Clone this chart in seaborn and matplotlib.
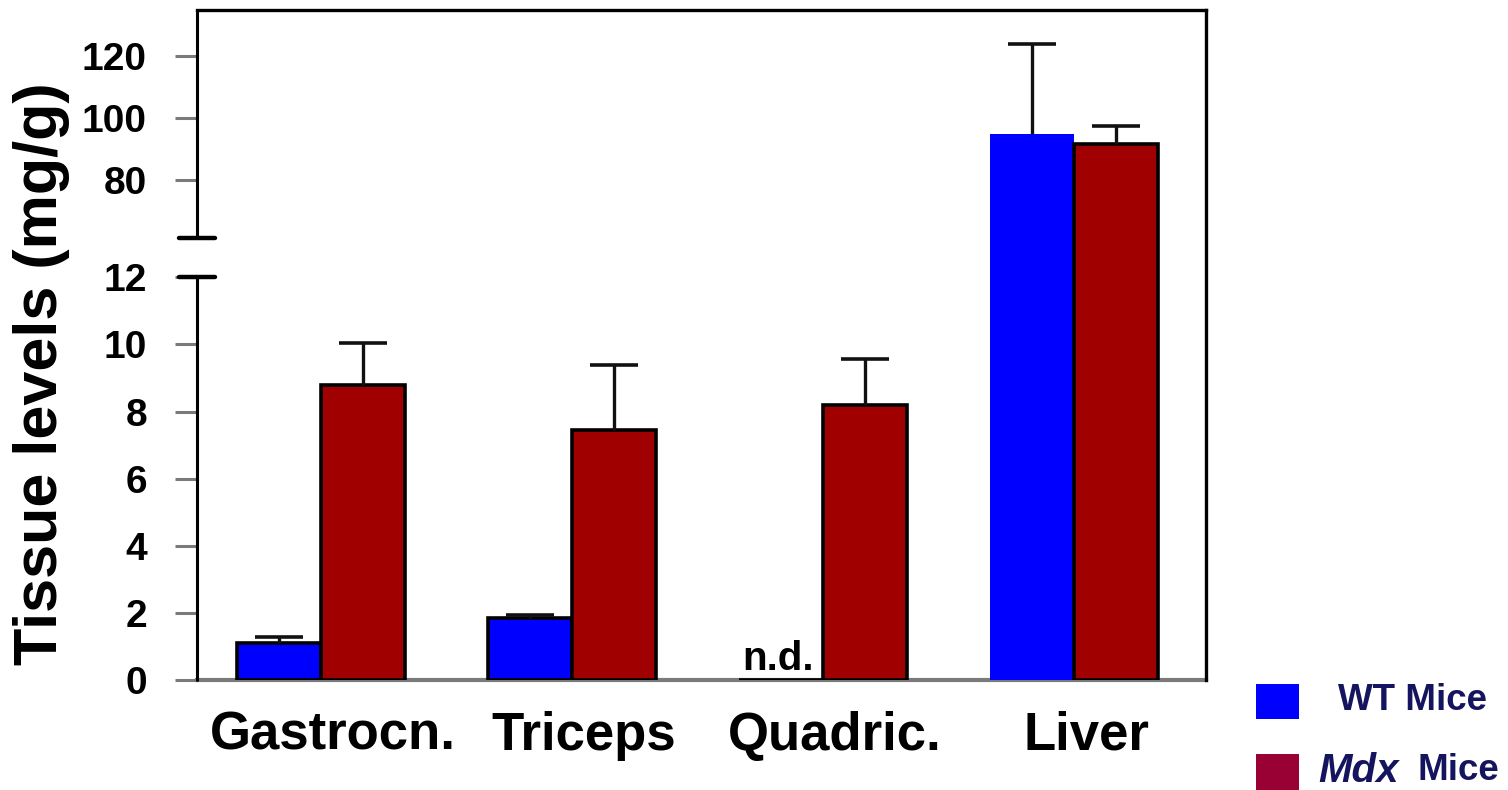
import numpy as np
import pandas as pd
import matplotlib
matplotlib.use("Agg")
import matplotlib.pyplot as plt
import matplotlib.transforms as mtransforms
from matplotlib.patches import Rectangle
import seaborn as sns

# ---------------- data ----------------
tissues = ["Gastrocn.", "Triceps", "Quadric.", "Liver"]
groups = ["WT Mice", "Mdx Mice"]
wt_values = [1.1, 1.85, 0.0, 94.8]
wt_errors = [0.18, 0.1, np.nan, 28.9]
mdx_values = [8.8, 7.45, 8.2, 91.6]
mdx_errors = [1.25, 1.95, 1.38, 5.8]
ytick_values = [0, 2, 4, 6, 8, 10, 12, 80, 100, 120]
nd_label = "n.d."

# ---------------- style ----------------
sns.set_style("white")
plt.rcParams["font.family"] = ["Liberation Sans", "DejaVu Sans"]
plt.rcParams["font.weight"] = "bold"
plt.rcParams["text.color"] = "black"
plt.rcParams["axes.labelcolor"] = "black"
plt.rcParams["xtick.labelcolor"] = "black"
plt.rcParams["ytick.labelcolor"] = "black"

BLUE = "#0000FF"
RED = "#A00000"
LEG_RED = "#990033"
NAVY = "#15155F"
GRAY = "#7A7A7A"

df = pd.DataFrame({
    "tissue": tissues * 2,
    "group": [groups[0]] * 4 + [groups[1]] * 4,
    "value": wt_values + mdx_values,
})

fig = plt.figure(figsize=(15.08, 7.9), dpi=100)
ax = fig.add_axes([197 / 1508, 110 / 790, (1206 - 197) / 1508, 670 / 790])

sns.barplot(data=df, x="tissue", y="value", hue="group", order=tissues,
            hue_order=groups, palette=[BLUE, RED], width=0.67,
            edgecolor="black", linewidth=2.6, errorbar=None, legend=False,
            saturation=1, ax=ax)

# broken (piecewise linear) y scale
BV = np.array([0.0, 12.0, 61.3, 400.0])
BP = np.array([0.0, 402.6, 442.0, 442.0 + (400.0 - 61.3) * 3.1])


def fwd(v):
    v = np.asarray(v, dtype=float)
    return np.where(v < 0, v * 33.55, np.interp(v, BV, BP))


def inv(p):
    p = np.asarray(p, dtype=float)
    return np.where(p < 0, p / 33.55, np.interp(p, BP, BV))


ax.set_yscale("function", functions=(fwd, inv))
ax.set_ylim(0, 134.8)
ax.set_xlim(-0.494, 3.526)
ax.set_yticks(ytick_values)
ax.set_yticklabels([str(v) for v in ytick_values])
ax.yaxis.set_minor_locator(matplotlib.ticker.NullLocator())

# liver WT bar has no outline
patches = ax.patches
n = len(tissues)
wt_patches = patches[:n]
mdx_patches = patches[n:2 * n]
wt_patches[3].set_edgecolor(BLUE)
wt_patches[3].set_linewidth(0)

# error bars (upper only)
for plist, errs in ((wt_patches, wt_errors), (mdx_patches, mdx_errors)):
    for p, e in zip(plist, errs):
        if e is None or np.isnan(e):
            continue
        xc = p.get_x() + p.get_width() / 2
        h = p.get_height()
        _, caps, _ = ax.errorbar([xc], [h], yerr=[[0], [e]], fmt="none",
                                 ecolor="#111111", elinewidth=2.4,
                                 capsize=17, capthick=2.6, zorder=1)
        caps[0].set_visible(False)

# n.d. label over quadric WT slot
qp = wt_patches[2]
ax.text(qp.get_x() + qp.get_width() / 2 - 0.01, 0.3, nd_label, ha="center",
        va="baseline", fontsize=29, fontweight="bold", color="black")

# spines
for s in ("top", "right"):
    ax.spines[s].set_color("black")
    ax.spines[s].set_linewidth(2.4)
ax.spines["bottom"].set_color(GRAY)
ax.spines["bottom"].set_linewidth(3)
ax.spines["bottom"].set_zorder(0.5)
ax.spines["left"].set_visible(False)

ytrans = ax.get_yaxis_transform()
ax.plot([0, 0], [0, 12], transform=ytrans, color="black", lw=2.2,
        clip_on=False, zorder=5)
ax.plot([0, 0], [61.3, 134.8], transform=ytrans, color="black", lw=2.2,
        clip_on=False, zorder=5)
for yb in (12, 61.3):
    ax.plot([-0.018, 0.018], [yb, yb], transform=ytrans, color="black",
            lw=3.2, clip_on=False, zorder=5)

# ticks
ax.tick_params(axis="y", direction="out", length=16, width=2.2, color=GRAY,
               labelsize=28, pad=20, left=True)
ax.tick_params(axis="x", length=0, labelsize=38, pad=22)
for lab in ax.get_yticklabels():
    lab.set_fontweight("bold")
offset = mtransforms.ScaledTranslation(12 / 100, 0, fig.dpi_scale_trans)
for lab in ax.get_xticklabels():
    lab.set_fontweight("bold")
    lab.set_transform(lab.get_transform() + offset)

ax.set_xlabel("")
ax.set_ylabel("Tissue levels (mg/g)", fontsize=44, fontweight="bold")
ax.yaxis.set_label_coords(-0.1259, 0.457)

# legend (manual)
fig.patches.append(Rectangle((1256 / 1508, (790 - 719) / 790), 43 / 1508,
                             35 / 790, transform=fig.transFigure,
                             facecolor=BLUE, edgecolor="none"))
fig.patches.append(Rectangle((1256 / 1508, (790 - 790) / 790), 43 / 1508,
                             36 / 790, transform=fig.transFigure,
                             facecolor=LEG_RED, edgecolor="none"))
fig.text(1338 / 1508, (790 - 700) / 790, "WT Mice", ha="left", va="center",
         fontsize=26.5, fontweight="bold", color=NAVY)
fig.text(1318 / 1508, (790 - 771) / 790, "Mdx", ha="left", va="center",
         fontsize=29, fontweight="bold", fontstyle="italic", color=NAVY)
fig.text(1499 / 1508, (790 - 771) / 790, "Mice", ha="right", va="center",
         fontsize=26.5, fontweight="bold", color=NAVY)

fig.savefig("out.png", dpi=100)
